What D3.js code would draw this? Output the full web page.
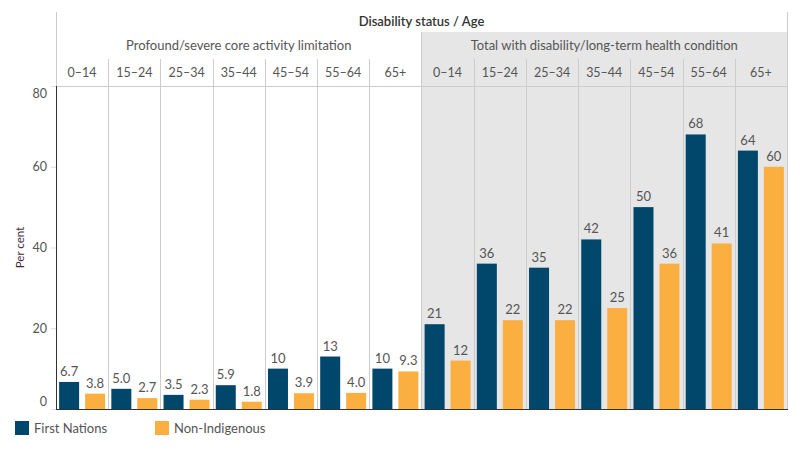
<!DOCTYPE html>
<html>
<head>
<meta charset="utf-8">
<script src="https://cdn.jsdelivr.net/npm/d3@7"></script>
<style>
  body { margin: 0; background: #fff; }
  svg { font-family: Lato, "Noto Sans", sans-serif; }
</style>
</head>
<body>
<div id="chart"></div>
<script>
// values
const groups = ["Profound/severe core activity limitation", "Total with disability/long-term health condition"];
const ages = ["0\u201314", "15\u201324", "25\u201334", "35\u201344", "45\u201354", "55\u201364", "65+"];
const series = ["First Nations", "Non-Indigenous"];
const fnProfound = [6.7, 5.0, 3.5, 5.9, 10, 13, 10];
const niProfound = [3.8, 2.7, 2.3, 1.8, 3.9, 4.0, 9.3];
const fnTotal = [21, 36, 35, 42, 50, 68, 64];
const niTotal = [12, 22, 22, 25, 36, 41, 60];
const yTicks = [0, 20, 40, 60, 80];

const colors = { "First Nations": "#00476b", "Non-Indigenous": "#fcaf41" };

const width = 800, height = 450;
const plotLeft = 56, plotRight = 787, plotTop = 86, plotBottom = 409;

// one row per column (group x age)
let cols = [];
groups.forEach(function(g, gi) {
  const fn = gi === 0 ? fnProfound : fnTotal;
  const ni = gi === 0 ? niProfound : niTotal;
  ages.forEach(function(a, ai) {
    cols.push({ key: gi + "|" + a, group: gi, age: a,
      values: [{ s: series[0], v: fn[ai] }, { s: series[1], v: ni[ai] }] });
  });
});

const svg = d3.select("#chart").append("svg")
  .attr("width", width).attr("height", height);

const x = d3.scaleBand().domain(cols.map(d => d.key)).range([plotLeft, plotRight]).padding(0);
const xs = d3.scaleBand().domain(series).range([0, x.bandwidth()])
  .paddingInner(0.23).paddingOuter(0.12);
const y = d3.scaleLinear().domain([0, 80]).range([plotBottom, plotTop]);

const splitX = x(cols[7].key);

// grey panel for second group
svg.append("rect")
  .attr("x", splitX).attr("y", 32)
  .attr("width", plotRight - splitX).attr("height", plotBottom - 32)
  .attr("fill", "#e6e6e6");

// frame lines
const grid = "#cccccc";
svg.append("line").attr("x1", plotLeft + 0.5).attr("x2", plotLeft + 0.5).attr("y1", 12).attr("y2", plotTop).attr("stroke", grid);
svg.append("line").attr("x1", plotRight + 0.5).attr("x2", plotRight + 0.5).attr("y1", 12).attr("y2", plotBottom).attr("stroke", grid);
svg.append("line").attr("x1", splitX).attr("x2", splitX).attr("y1", 32).attr("y2", plotBottom).attr("stroke", grid);
svg.append("line").attr("x1", plotLeft).attr("x2", plotRight).attr("y1", plotTop + 0.5).attr("y2", plotTop + 0.5).attr("stroke", grid);

// column separators
svg.selectAll(".sep")
  .data(cols.filter((d, i) => i % 7 !== 0))
  .enter().append("line")
  .attr("x1", d => Math.round(x(d.key)) + 0.5)
  .attr("x2", d => Math.round(x(d.key)) + 0.5)
  .attr("y1", 59).attr("y2", plotBottom)
  .attr("stroke", grid);

// header texts
svg.append("text")
  .attr("x", (plotLeft + plotRight) / 2).attr("y", 26)
  .attr("text-anchor", "middle")
  .attr("font-size", 13).attr("font-weight", 600).attr("fill", "#333")
  .text("Disability status / Age");

svg.selectAll(".grp")
  .data(groups)
  .enter().append("text")
  .attr("x", (d, i) => {
    const a = x(cols[i * 7].key), b = x(cols[i * 7 + 6].key) + x.bandwidth();
    return (a + b) / 2;
  })
  .attr("y", 50)
  .attr("text-anchor", "middle")
  .attr("font-size", 13).attr("fill", "#555")
  .text(d => d);

svg.selectAll(".age")
  .data(cols)
  .enter().append("text")
  .attr("x", d => x(d.key) + x.bandwidth() / 2)
  .attr("y", 77)
  .attr("text-anchor", "middle")
  .attr("font-size", 12.5).attr("fill", "#555")
  .text(d => d.age);

// bars
const colG = svg.selectAll(".col")
  .data(cols)
  .enter().append("g")
  .attr("transform", d => "translate(" + x(d.key) + ",0)");

colG.selectAll("rect")
  .data(d => d.values)
  .enter().append("rect")
  .attr("x", d => xs(d.s))
  .attr("width", xs.bandwidth())
  .attr("y", d => y(d.v))
  .attr("height", d => plotBottom - y(d.v))
  .attr("fill", d => colors[d.s]);

const fmt = v => v >= 10 ? d3.format(".0f")(v) : d3.format(".1f")(v);
colG.selectAll("text")
  .data(d => d.values)
  .enter().append("text")
  .attr("x", d => xs(d.s) + xs.bandwidth() / 2)
  .attr("y", d => y(d.v) - 6)
  .attr("text-anchor", "middle")
  .attr("font-size", 13).attr("fill", "#555")
  .text(d => fmt(d.v));

// y axis
const yAxis = svg.append("g")
  .attr("transform", "translate(" + plotLeft + ",0)")
  .call(d3.axisLeft(y).tickValues(yTicks).tickSize(5).tickPadding(4));
yAxis.select(".domain").remove();
yAxis.selectAll(".tick line").attr("stroke", "#ddd");
yAxis.selectAll(".tick text")
  .attr("font-size", 12.5).attr("fill", "#555")
  .attr("font-family", "Lato, 'Noto Sans', sans-serif")
  .attr("dy", d => d === 80 ? "0.95em" : d === 0 ? "-0.3em" : "0.32em");

svg.append("line").attr("x1", plotLeft + 0.5).attr("x2", plotLeft + 0.5).attr("y1", plotTop).attr("y2", plotBottom).attr("stroke", "#333");
svg.append("line").attr("x1", plotLeft).attr("x2", plotRight + 1).attr("y1", plotBottom + 0.5).attr("y2", plotBottom + 0.5).attr("stroke", "#333");

svg.append("text")
  .attr("transform", "translate(24," + ((plotTop + plotBottom) / 2) + ") rotate(-90)")
  .attr("text-anchor", "middle")
  .attr("font-size", 11.5).attr("fill", "#3d2b3b")
  .text("Per cent");

// legend
const leg = svg.selectAll(".leg")
  .data(series)
  .enter().append("g")
  .attr("transform", (d, i) => "translate(" + (i === 0 ? 15 : 155) + ",421)");
leg.append("rect").attr("width", 14).attr("height", 14).attr("fill", d => colors[d]);
leg.append("text").attr("x", 19).attr("y", 12)
  .attr("font-size", 13).attr("fill", "#555")
  .text(d => d);
</script>
</body>
</html>
